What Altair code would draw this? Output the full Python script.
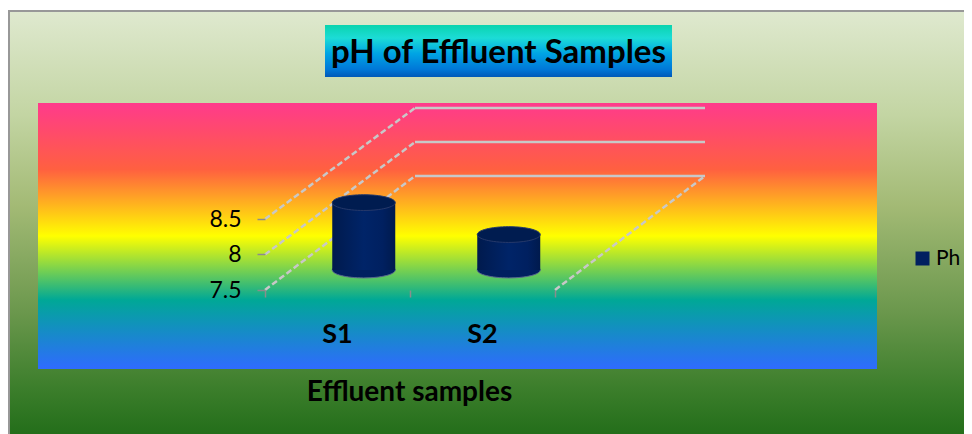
import altair as alt
import pandas as pd

categories = ["S1", "S2"]
ph_values = [8.45, 8.0]
y_ticks = [7.5, 8.0, 8.5]
series_name = "Ph"
title_text = "pH of Effluent Samples"
x_title = "Effluent samples"
FONT = "Lato"

# plot frame: one category = 145 px, one pH unit = 71 px
W, H = 438, 182
X_DOMAIN = [0, W / 145]
Y_DOMAIN = [7.5, 7.5 + H / 71]
# oblique depth vector, in data units; the back wall is slightly foreshortened
DX, DY = 150 / 145, 114 / 71
BACK_SHRINK = 68 / 71
BAR_DEPTH = 0.175
BAR_HALF = 31.5 / 145

xs = alt.Scale(domain=X_DOMAIN, nice=False, zero=False)
ys = alt.Scale(domain=Y_DOMAIN, nice=False, zero=False)
one = pd.DataFrame({"k": [0]})

def grad(stops, x2=0, y2=1):
    return alt.LinearGradient(
        gradient="linear", x1=0, y1=0, x2=x2, y2=y2,
        stops=[alt.GradientStop(color=c, offset=o) for o, c in stops])

def box(x, x2, y, y2, fill, **kw):
    return alt.Chart(one).mark_rect(fill=fill, **kw).encode(
        x=alt.value(x), x2=alt.value(x2), y=alt.value(y), y2=alt.value(y2))

outer = box(-256, 715, -97, 335, grad([
    (0, "#dfe9cf"), (0.24, "#c3d5a3"), (0.45, "#a3ba75"), (0.7, "#6a974c"),
    (0.88, "#3a7d2a"), (1, "#1f6b17")]), stroke="#989898", strokeWidth=2)
inner = box(-227, 612, -5, 261, grad([
    (0, "#ff3a8c"), (0.25, "#ff6040"), (0.5, "#ffff00"),
    (0.74, "#00a896"), (1, "#2f6bff")]))
title_box = box(60, 407, -83, -31, grad([
    (0, "#0ad4ae"), (0.25, "#1cdcd6"), (0.55, "#00a4e4"),
    (0.85, "#0078d8"), (1, "#0058b8")]))

def back_y(v):
    return 7.5 + DY + (v - 7.5) * BACK_SHRINK

# back-wall gridlines and their oblique side-wall counterparts
rows = []
for v in y_ticks:
    rows.append({"g": f"a{v}", "o": 0, "x": 0, "y": v})
    rows.append({"g": f"a{v}", "o": 1, "x": DX, "y": back_y(v)})
rows.append({"g": "floor", "o": 0, "x": 2, "y": 7.5})
rows.append({"g": "floor", "o": 1, "x": 2 + DX, "y": 7.5 + DY})
oblique = alt.Chart(pd.DataFrame(rows)).mark_line(
    color="#c8c8c8", strokeWidth=2.5, strokeDash=[6, 3]).encode(
    x=alt.X("x:Q", scale=xs, axis=alt.Axis(
        values=[0, 1, 2], labels=False, domain=False, grid=False, zindex=1,
        tickColor="#8c8c8c", tickSize=7, tickWidth=1.5, title=x_title,
        titleFont=FONT, titleFontSize=28, titleFontWeight="bold", titleColor="#000000",
        titleX=144, titleY=102, titleBaseline="middle")),
    y=alt.Y("y:Q", scale=ys, axis=alt.Axis(
        values=y_ticks, format="~g", domain=False, grid=False, zindex=1, title=None,
        tickColor="#8c8c8c", tickSize=8, tickWidth=1.5, labelPadding=16,
        labelFont=FONT, labelFontSize=23, labelColor="#000000")),
    detail="g:N", order="o:Q")

rows = []
for v in y_ticks:
    rows.append({"x": DX, "x2": 2 + DX, "y": back_y(v)})
back = alt.Chart(pd.DataFrame(rows)).mark_rule(color="#c8c8c8", strokeWidth=2.5).encode(
    x=alt.X("x:Q", scale=xs), x2="x2:Q", y=alt.Y("y:Q", scale=ys))

bars = pd.DataFrame({"cat": categories, "ph": ph_values, "series": series_name})
bars["c"] = [i + 0.5 + BAR_DEPTH * DX for i in range(len(categories))]
bars["left"] = bars["c"] - BAR_HALF
bars["right"] = bars["c"] + BAR_HALF
bars["base"] = 7.5 + BAR_DEPTH * DY
bars["top"] = bars["ph"] + BAR_DEPTH * DY
bars["label_x"] = [i + 0.5 for i in range(len(categories))]

ELLIPSE = "M-1,0A1,0.25 0 1 0 1,0A1,0.25 0 1 0 -1,0Z"
SIZE = 63 ** 2

bottom = alt.Chart(bars).mark_point(
    shape=ELLIPSE, size=SIZE, filled=True, opacity=1, stroke="#56678f", strokeWidth=1
).encode(
    x=alt.X("c:Q", scale=xs), y=alt.Y("base:Q", scale=ys),
    color=alt.Color("series:N", scale=alt.Scale(range=["#002060"]), legend=alt.Legend(
        title=None, orient="none", legendX=647, legendY=140,
        symbolType="square", symbolSize=196, symbolStrokeWidth=0, labelFont=FONT,
        labelFontSize=21, labelColor="#000000", labelOffset=3)))
body = alt.Chart(bars).mark_rect(fill=grad([
    (0, "#001a4d"), (0.5, "#002468"), (0.8, "#002060"), (1, "#001a4d")], x2=1, y2=0)).encode(
    x=alt.X("left:Q", scale=xs), x2="right:Q", y=alt.Y("top:Q", scale=ys), y2="base:Q")
top = alt.Chart(bars).mark_point(
    shape=ELLIPSE, size=SIZE, filled=True, opacity=1, fill="#001c50",
    stroke="#26396a", strokeWidth=1
).encode(x=alt.X("c:Q", scale=xs), y=alt.Y("top:Q", scale=ys))

labels = alt.Chart(bars).mark_text(
    font=FONT, fontSize=27, fontWeight="bold", color="#000000", baseline="middle"
).encode(x=alt.X("label_x:Q", scale=xs), y=alt.value(227), text="cat:N")

chart = alt.layer(outer, inner, title_box, oblique, back, bottom, body, top, labels).properties(
    width=W, height=H,
    padding={"left": 257, "top": 100, "right": 261, "bottom": 144},
    autosize=alt.AutoSizeParams(type="none"),
    title=alt.TitleParams(title_text, font=FONT, fontSize=33, fontWeight="bold",
                          color="#000000", anchor="middle", dx=14.5, dy=93, offset=0,
                          baseline="bottom", zindex=1),
    background="#ffffff",
).configure_view(stroke=None)

chart.save("out.html", embed_options={"renderer": "svg", "actions": False})
